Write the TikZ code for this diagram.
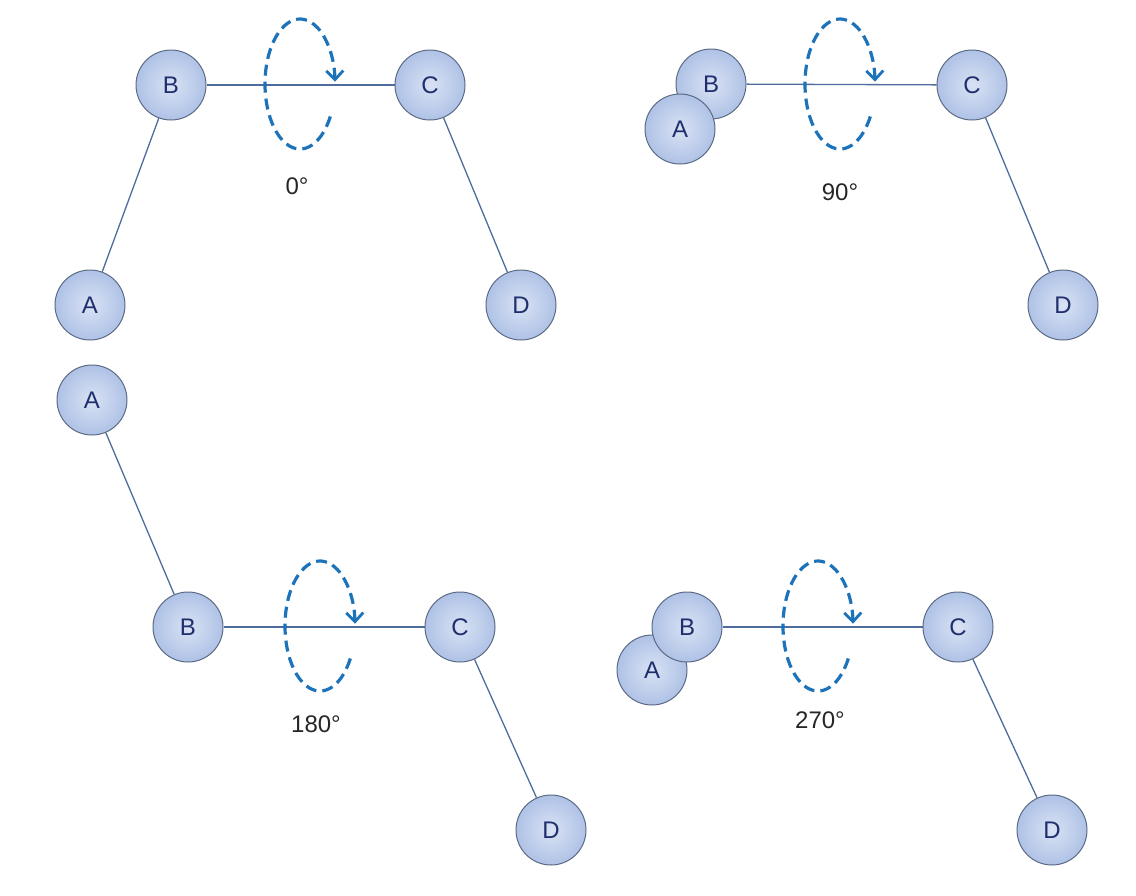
\documentclass[tikz,border=0pt]{standalone}
\usepackage{fontspec}
\setmainfont{Liberation Sans}
\usetikzlibrary{arrows.meta}
\definecolor{ballin}{HTML}{D9E2F4}
\definecolor{ballout}{HTML}{AFC2E6}
\definecolor{balledge}{HTML}{5C6B85}
\definecolor{balltext}{HTML}{1F2F6E}
\definecolor{linkc}{HTML}{4E6C9C}
\definecolor{rotc}{HTML}{1D73BA}
\tikzset{
  ball/.style={circle, minimum size=70pt, inner sep=0pt, draw=balledge, line width=1pt,
    inner color=ballin, outer color=ballout, text=balltext,
    font=\fontsize{24}{28}\selectfont},
  link/.style={draw=linkc, line width=1.3pt},
  rot/.style={draw=rotc, line width=3.2pt, dash pattern=on 11pt off 6pt,
    -{Straight Barb[length=9pt,width=17pt,line width=2.8pt]}},
  angle/.style={font=\fontsize{24}{28}\selectfont, text=black!85}
}
\begin{document}
\begin{tikzpicture}[x=1pt,y=-1pt]
\useasboundingbox (0,0) rectangle (1136,895);
% panel 1
\node[ball] (B1) at (171,85) {B};
\node[ball] (C1) at (430,85) {C};
\node[ball] (A1) at (90,305) {A};
\node[ball] (D1) at (521,305) {D};
\draw[link] (B1) -- (C1);
\draw[link] (B1) -- (A1);
\draw[link] (C1) -- (D1);
\draw[rot] (300,84) ++(30:35 and 65) arc[start angle=30, end angle=358, x radius=35, y radius=65];
\node[angle] (L1) at (297,186) {0°};
% panel 2
\node[ball] (B2) at (711,84) {B};
\node[ball] (A2) at (680,129) {A};
\node[ball] (C2) at (972,85) {C};
\node[ball] (D2) at (1063,305) {D};
\draw[link] (B2) -- (C2);
\draw[link] (C2) -- (D2);
\draw[rot] (840,84) ++(30:35 and 65) arc[start angle=30, end angle=358, x radius=35, y radius=65];
\node[angle] (L2) at (840,192) {90°};
% panel 3
\node[ball] (A3) at (92,400) {A};
\node[ball] (B3) at (188,627) {B};
\node[ball] (C3) at (460,627) {C};
\node[ball] (D3) at (551,830) {D};
\draw[link] (B3) -- (C3);
\draw[link] (A3) -- (B3);
\draw[link] (C3) -- (D3);
\draw[rot] (320,626) ++(30:35 and 65) arc[start angle=30, end angle=358, x radius=35, y radius=65];
\node[angle] (L3) at (316,724) {180°};
% panel 4
\node[ball] (A4) at (652,670) {A};
\node[ball] (B4) at (687,627) {B};
\node[ball] (C4) at (958,627) {C};
\node[ball] (D4) at (1052,830) {D};
\draw[link] (B4) -- (C4);
\draw[link] (C4) -- (D4);
\draw[rot] (818,626) ++(30:35 and 65) arc[start angle=30, end angle=358, x radius=35, y radius=65];
\node[angle] (L4) at (820,720) {270°};
\end{tikzpicture}
\end{document}
